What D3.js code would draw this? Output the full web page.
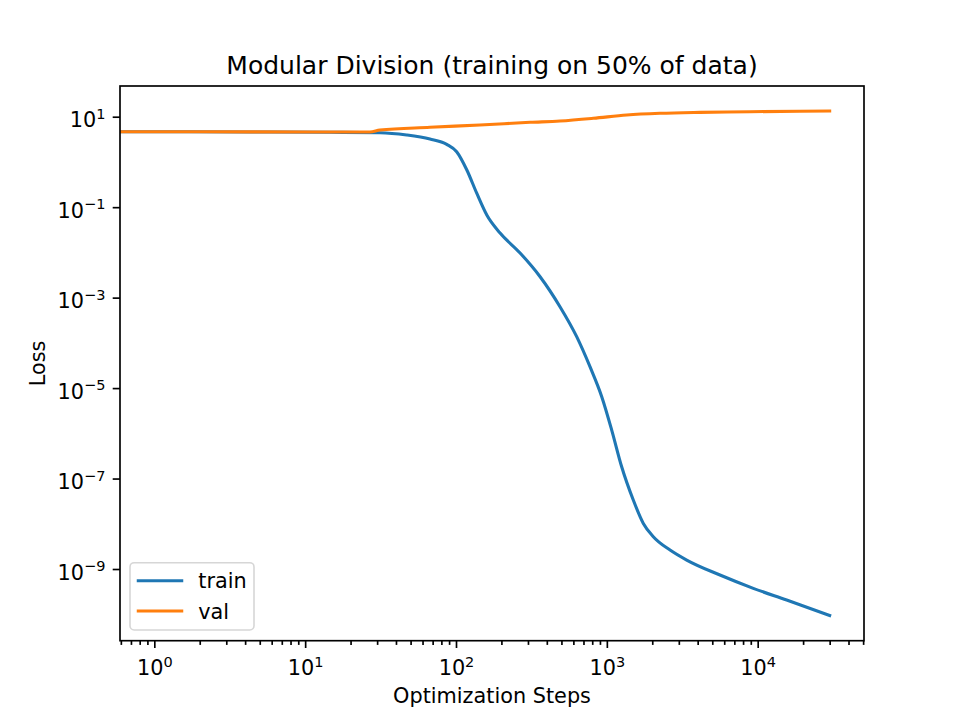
<!DOCTYPE html>
<html>
<head>
<meta charset="utf-8">
<script src="https://cdn.jsdelivr.net/npm/d3@7"></script>
<style>
  body { margin: 0; background: #fff; }
  text { font-family: "DejaVu Sans", sans-serif; fill: #000; }
</style>
</head>
<body>
<div id="chart"></div>
<script>
// values
const trainSteps = [0, 1, 4.31, 14.6, 31.3, 47.1, 67.2, 86.8, 101, 118, 137, 160, 196, 266,
                    361, 489, 631, 773, 925, 1077, 1254, 1497, 1745, 2032, 2624, 3383, 5623,
                    9350, 15560, 30000];
const trainLoss = [4.66, 4.66, 4.59, 4.52, 4.43, 3.94, 3.21, 2.45, 1.68, 0.664, 0.206, 0.0671,
                   0.0268, 0.0097, 0.0029, 6.3e-4, 1.37e-4, 2.97e-5, 6.44e-6, 1.18e-6, 1.82e-7,
                   3.35e-8, 1.02e-8, 5.18e-9, 2.63e-9, 1.58e-9, 7.36e-10, 3.74e-10, 2.06e-10, 9.4e-11];

const valSteps = [0, 1, 4.31, 26.9, 31.3, 67.2, 144, 310, 489, 813, 1354, 2250, 4148, 8890, 30000];
const valLoss = [4.66, 4.66, 4.62, 4.59, 5.08, 5.83, 6.55, 7.52, 8.04, 9.22, 10.9, 11.9, 12.5, 12.9, 13.4];

const seriesNames = ['train', 'val'];
const seriesColors = ['#1f77b4', '#ff7f0e'];

const xTickExps = [0, 1, 2, 3, 4];
const yTickExps = [1, -1, -3, -5, -7, -9];
const xDomain = [0.5923, 50670];
const yDomain = [Math.pow(10, -10.585), Math.pow(10, 1.679)];

const titleText = 'Modular Division (training on 50% of data)';
const xLabel = 'Optimization Steps';
const yLabel = 'Loss';

const width = 960, height = 720;
const plot = {left: 120, right: 864, top: 86, bottom: 640.7};
const majorLen = 7.3, minorLen = 4.2, tickW = 1.67;

const svg = d3.select('#chart').append('svg')
    .attr('width', width)
    .attr('height', height)
    .attr('viewBox', [0, 0, width, height]);

svg.append('rect').attr('width', width).attr('height', height).attr('fill', '#fff');

const x = d3.scaleLog().domain(xDomain).range([plot.left, plot.right]);
const y = d3.scaleLog().domain(yDomain).range([plot.bottom, plot.top]);

svg.append('clipPath').attr('id', 'plotclip')
    .append('rect')
    .attr('x', plot.left).attr('y', plot.top)
    .attr('width', plot.right - plot.left)
    .attr('height', plot.bottom - plot.top);

// minor x ticks at 2..9 of each decade
const xMinor = [];
for (let k = -1; k <= 4; k++) {
    for (let m = 2; m <= 9; m++) {
        const v = m * Math.pow(10, k);
        if (v >= xDomain[0] && v <= xDomain[1]) xMinor.push(v);
    }
}

function supLabel(sel, exp) {
    sel.text('');
    sel.append('tspan').text('10');
    sel.append('tspan')
        .attr('dy', -8.5)
        .attr('font-size', 14.5)
        .text(String(exp).replace('-', '\u2212'));
}

// x axis
const xAxisG = svg.append('g')
    .attr('transform', 'translate(0,' + plot.bottom + ')')
    .call(d3.axisBottom(x)
        .tickValues(xMinor)
        .tickSize(minorLen)
        .tickSizeOuter(0)
        .tickFormat(''));
xAxisG.select('.domain').remove();
xAxisG.selectAll('line').attr('stroke', '#000').attr('stroke-width', tickW);

const xMajorG = svg.append('g')
    .attr('transform', 'translate(0,' + plot.bottom + ')')
    .call(d3.axisBottom(x)
        .tickValues(xTickExps.map(e => Math.pow(10, e)))
        .tickSize(majorLen)
        .tickSizeOuter(0)
        .tickPadding(7.3));
xMajorG.select('.domain').remove();
xMajorG.selectAll('line').attr('stroke', '#000').attr('stroke-width', tickW);
xMajorG.selectAll('text')
    .attr('font-size', 20.8)
    .attr('font-family', '"DejaVu Sans", sans-serif')
    .attr('dy', null)
    .attr('y', 34.5)
    .each(function(d, i) { supLabel(d3.select(this), xTickExps[i]); });

// y axis
const yAxisG = svg.append('g')
    .attr('transform', 'translate(' + plot.left + ',0)')
    .call(d3.axisLeft(y)
        .tickValues(yTickExps.map(e => Math.pow(10, e)))
        .tickSize(majorLen)
        .tickSizeOuter(0)
        .tickPadding(7.3));
yAxisG.select('.domain').remove();
yAxisG.selectAll('line').attr('stroke', '#000').attr('stroke-width', tickW);
yAxisG.selectAll('text')
    .attr('font-size', 20.8)
    .attr('font-family', '"DejaVu Sans", sans-serif')
    .attr('dy', 10)
    .each(function(d, i) { supLabel(d3.select(this), yTickExps[i]); });

// lines
const line = d3.line()
    .x(d => x(Math.max(d.step, 1e-6)))
    .y(d => y(d.loss))
    .curve(d3.curveMonotoneX);

const series = [
    trainSteps.map((s, i) => ({step: s, loss: trainLoss[i]})),
    valSteps.map((s, i) => ({step: s, loss: valLoss[i]}))
];

svg.append('g')
    .attr('clip-path', 'url(#plotclip)')
    .selectAll('path')
    .data(series)
    .join('path')
    .attr('d', line)
    .attr('fill', 'none')
    .attr('stroke', (d, i) => seriesColors[i])
    .attr('stroke-width', 3.1)
    .attr('stroke-linejoin', 'round')
    .attr('stroke-linecap', 'square');

// frame
svg.append('rect')
    .attr('x', plot.left).attr('y', plot.top)
    .attr('width', plot.right - plot.left)
    .attr('height', plot.bottom - plot.top)
    .attr('fill', 'none')
    .attr('stroke', '#000')
    .attr('stroke-width', 1.67);

// title and axis labels
svg.append('text')
    .attr('x', (plot.left + plot.right) / 2)
    .attr('y', 73.5)
    .attr('text-anchor', 'middle')
    .attr('font-size', 25)
    .text(titleText);

svg.append('text')
    .attr('x', (plot.left + plot.right) / 2)
    .attr('y', 703)
    .attr('text-anchor', 'middle')
    .attr('font-size', 20.8)
    .text(xLabel);

svg.append('text')
    .attr('transform', 'translate(45,' + ((plot.top + plot.bottom) / 2) + ') rotate(-90)')
    .attr('text-anchor', 'middle')
    .attr('font-size', 20.8)
    .text(yLabel);

// legend
const legend = svg.append('g').attr('transform', 'translate(130,562.7)');
legend.append('rect')
    .attr('width', 124).attr('height', 67.3)
    .attr('rx', 4.2).attr('ry', 4.2)
    .attr('fill', '#fff').attr('fill-opacity', 0.8)
    .attr('stroke', '#d6d6d6')
    .attr('stroke-width', 1.6);

const items = legend.selectAll('g.item')
    .data(seriesNames)
    .join('g')
    .classed('item', true)
    .attr('transform', (d, i) => 'translate(0,' + (18 + i * 30.3) + ')');
items.append('line')
    .attr('x1', 8.3).attr('x2', 51.7)
    .attr('stroke', (d, i) => seriesColors[i])
    .attr('stroke-width', 3.1)
    .attr('stroke-linecap', 'square');
items.append('text')
    .attr('x', 68.3)
    .attr('y', 7.6)
    .attr('font-size', 20.8)
    .text(d => d);
</script>
</body>
</html>
